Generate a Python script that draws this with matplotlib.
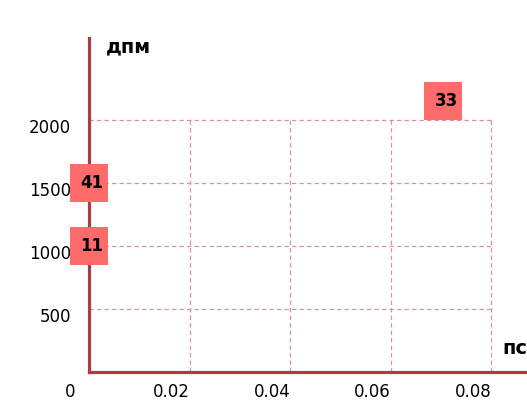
import numpy as np
import matplotlib.pyplot as plt
import matplotlib.transforms as mtransforms

# data
x_vals = [0.0, 0.0, 0.0705]
y_vals = [1500, 1000, 2150]
point_labels = ['41', '11', '33']
x_ticks = [0.02, 0.04, 0.06, 0.08]
y_ticks = [500, 1000, 1500, 2000]
x_name = 'пс'
y_name = 'дпм'

spine_col = '#ad3c48'
grid_col = '#d9949b'
box_col = '#fe6b6b'

fig = plt.figure(figsize=(5.27, 4.08), dpi=100)
ax = fig.add_axes([89 / 527, 36 / 408, 1.0, 334 / 408])
# 0.02 per 100.5 px, 500 per 63 px
ax.set_xlim(0, 527 / 100.5 * 0.02)
ax.set_ylim(0, 2651)

for s in ['top', 'right']:
    ax.spines[s].set_visible(False)
for s in ['left', 'bottom']:
    ax.spines[s].set_color(spine_col)
    ax.spines[s].set_linewidth(2.3)

# grid inside 0..0.08, 0..2000 only
ax.hlines(y_ticks, 0, max(x_ticks), colors=grid_col, linestyles=(0, (3.5, 2.5)), linewidth=0.9)
ax.vlines(x_ticks, 0, max(y_ticks), colors=grid_col, linestyles=(0, (3.5, 2.5)), linewidth=0.9)

ax.tick_params(length=0, labelsize=12)
ax.set_xticks(x_ticks)
ax.set_xticklabels([str(t) for t in x_ticks])
ax.set_yticks(y_ticks)
ax.set_yticklabels([str(t) for t in y_ticks])
ax.tick_params(axis='x', pad=8)
ax.tick_params(axis='y', pad=13)

off_x = mtransforms.ScaledTranslation(-18 / 100, 0, fig.dpi_scale_trans)
for lab in ax.get_xticklabels():
    lab.set_transform(lab.get_transform() + off_x)
off_y = mtransforms.ScaledTranslation(0, -6 / 100, fig.dpi_scale_trans)
for lab in ax.get_yticklabels():
    lab.set_transform(lab.get_transform() + off_y)

fig.text(70 / 527, 1 - 392 / 408, '0', fontsize=12, ha='center', va='center')

ax.scatter(x_vals, y_vals, marker='s', s=27.4 ** 2, color=box_col, edgecolors='none',
           clip_on=False, zorder=5)
for x, y, t in zip(x_vals, y_vals, point_labels):
    ax.annotate(t, (x, y), xytext=(2, 0), textcoords='offset points', ha='center',
                va='center', fontsize=12, fontweight='bold', zorder=6, annotation_clip=False)

fig.text(106 / 527, 1 - 47 / 408, y_name, fontsize=14, fontweight='bold', va='center')
fig.text(502 / 527, 1 - 348 / 408, x_name, fontsize=14, fontweight='bold', va='center')

fig.savefig('out.png', dpi=100)
